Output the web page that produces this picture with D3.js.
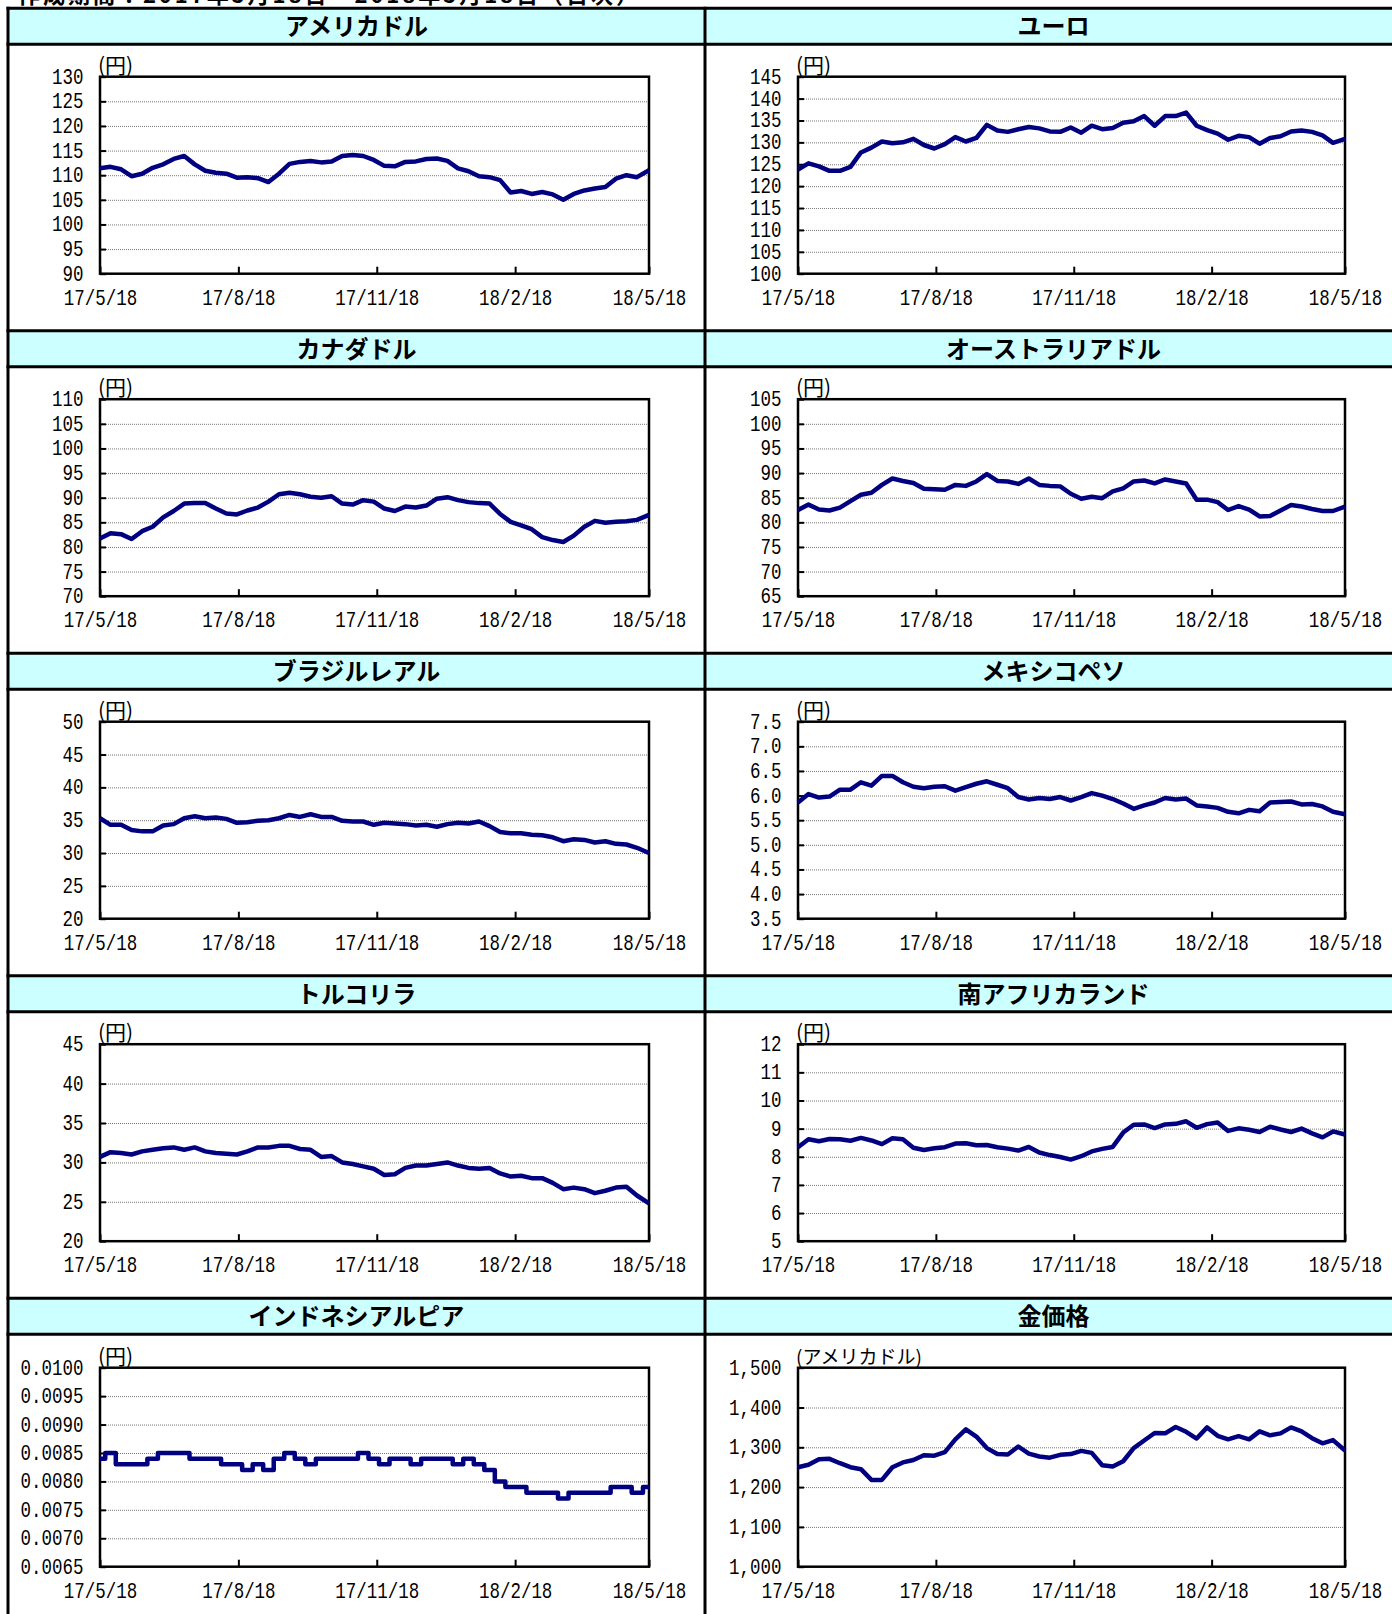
<!DOCTYPE html>
<html>
<head>
<meta charset="utf-8">
<script src="https://cdn.jsdelivr.net/npm/d3@7"></script>
<style>
body { margin: 0; background: #fff; }
svg { display: block; }
.num { font-family: "Liberation Mono", "DejaVu Sans Mono", monospace; font-size: 17.5px; fill: #000; }
.jp { font-family: "Noto Sans CJK JP", sans-serif; fill: #000; }
</style>
</head>
<body>
<svg></svg>
<script>
// weekly readings, 17/5/18 .. 18/5/18
var startDate = new Date(2017, 4, 18), endDate = new Date(2018, 4, 18);
var dates = d3.range(53).map(function (i) {
    return i < 52 ? d3.timeDay.offset(startDate, 7 * i) : endDate;
});
var xTicks = [new Date(2017, 4, 18), new Date(2017, 7, 18), new Date(2017, 10, 18), new Date(2018, 1, 18), new Date(2018, 4, 18)];

var usd = [111.4, 111.7, 111.2, 109.8, 110.3, 111.5, 112.2, 113.3, 113.9, 112.2, 110.9, 110.5, 110.3, 109.5, 109.6, 109.4, 108.6, 110.3, 112.3, 112.7, 112.9, 112.6, 112.8, 113.9, 114.1, 113.9, 113.1, 111.9, 111.8, 112.7, 112.8, 113.3, 113.4, 112.9, 111.4, 110.8, 109.8, 109.6, 109.0, 106.5, 106.8, 106.2, 106.6, 106.1, 105.0, 106.2, 106.9, 107.3, 107.6, 109.3, 110.0, 109.6, 111.0];
var eur = [123.8, 125.2, 124.5, 123.5, 123.5, 124.4, 127.7, 128.8, 130.2, 129.8, 130.0, 130.8, 129.4, 128.6, 129.6, 131.2, 130.2, 131.0, 134.0, 132.7, 132.4, 133.0, 133.5, 133.2, 132.5, 132.4, 133.4, 132.2, 133.8, 133.0, 133.3, 134.5, 134.8, 136.0, 133.8, 136.0, 136.0, 136.8, 133.8, 132.8, 132.0, 130.6, 131.5, 131.2, 129.7, 131.0, 131.4, 132.5, 132.7, 132.4, 131.6, 129.9, 130.8];
var cad = [81.7, 82.8, 82.6, 81.6, 83.2, 84.1, 86.0, 87.3, 88.8, 88.9, 88.9, 87.8, 86.8, 86.6, 87.4, 88.0, 89.2, 90.7, 91.0, 90.7, 90.2, 90.0, 90.3, 88.8, 88.6, 89.5, 89.2, 87.8, 87.3, 88.2, 88.0, 88.4, 89.8, 90.1, 89.5, 89.1, 88.9, 88.8, 86.7, 85.1, 84.4, 83.6, 82.0, 81.4, 81.0, 82.3, 84.1, 85.3, 84.9, 85.1, 85.2, 85.5, 86.5];
var aud = [82.5, 83.6, 82.6, 82.4, 83.0, 84.3, 85.6, 86.0, 87.6, 88.9, 88.4, 88.0, 86.8, 86.7, 86.6, 87.6, 87.4, 88.3, 89.8, 88.4, 88.3, 87.8, 88.9, 87.6, 87.4, 87.3, 85.8, 84.8, 85.2, 84.9, 86.3, 86.9, 88.3, 88.5, 87.9, 88.7, 88.3, 87.9, 84.6, 84.6, 84.1, 82.5, 83.3, 82.6, 81.2, 81.3, 82.4, 83.5, 83.2, 82.7, 82.3, 82.3, 83.2];
var brl = [35.3, 34.3, 34.3, 33.5, 33.3, 33.3, 34.2, 34.4, 35.3, 35.6, 35.3, 35.4, 35.2, 34.6, 34.7, 34.9, 35.0, 35.3, 35.8, 35.5, 35.9, 35.5, 35.5, 34.9, 34.8, 34.8, 34.3, 34.6, 34.5, 34.4, 34.2, 34.3, 34.0, 34.4, 34.6, 34.5, 34.8, 34.1, 33.2, 33.0, 33.0, 32.8, 32.7, 32.4, 31.8, 32.1, 32.0, 31.6, 31.8, 31.4, 31.3, 30.8, 30.0];
var mxn = [5.86, 6.03, 5.96, 5.98, 6.12, 6.12, 6.27, 6.20, 6.40, 6.40, 6.27, 6.18, 6.15, 6.18, 6.19, 6.10, 6.17, 6.24, 6.29, 6.22, 6.15, 5.97, 5.92, 5.95, 5.93, 5.97, 5.90, 5.97, 6.05, 6.00, 5.93, 5.84, 5.73, 5.80, 5.86, 5.95, 5.92, 5.94, 5.80, 5.78, 5.75, 5.67, 5.64, 5.71, 5.68, 5.86, 5.87, 5.88, 5.82, 5.83, 5.78, 5.67, 5.62];
var tryl = [30.7, 31.3, 31.2, 31.0, 31.4, 31.6, 31.8, 31.9, 31.6, 31.9, 31.4, 31.2, 31.1, 31.0, 31.4, 31.9, 31.9, 32.1, 32.1, 31.7, 31.6, 30.7, 30.8, 30.0, 29.8, 29.5, 29.2, 28.4, 28.5, 29.3, 29.6, 29.6, 29.8, 30.0, 29.6, 29.3, 29.2, 29.3, 28.6, 28.2, 28.3, 28.0, 28.0, 27.4, 26.6, 26.8, 26.6, 26.1, 26.4, 26.8, 26.9, 25.8, 24.8];
var zar = [8.34, 8.62, 8.55, 8.63, 8.62, 8.57, 8.67, 8.58, 8.45, 8.66, 8.62, 8.32, 8.24, 8.30, 8.34, 8.47, 8.48, 8.41, 8.42, 8.34, 8.29, 8.22, 8.35, 8.15, 8.06, 7.99, 7.90, 8.02, 8.19, 8.28, 8.35, 8.86, 9.14, 9.15, 9.02, 9.15, 9.17, 9.26, 9.03, 9.16, 9.22, 8.92, 9.01, 8.96, 8.88, 9.07, 8.97, 8.88, 9.00, 8.83, 8.69, 8.90, 8.79];
var idr = [0.0084, 0.0085, 0.0083, 0.0083, 0.0083, 0.0084, 0.0085, 0.0085, 0.0085, 0.0084, 0.0084, 0.0084, 0.0083, 0.0083, 0.0082, 0.0083, 0.0082, 0.0084, 0.0085, 0.0084, 0.0083, 0.0084, 0.0084, 0.0084, 0.0084, 0.0085, 0.0084, 0.0083, 0.0084, 0.0084, 0.0083, 0.0084, 0.0084, 0.0084, 0.0083, 0.0084, 0.0083, 0.0082, 0.0080, 0.0079, 0.0079, 0.0078, 0.0078, 0.0078, 0.0077, 0.0078, 0.0078, 0.0078, 0.0078, 0.0079, 0.0079, 0.0078, 0.0079];
var gold = [1250, 1256, 1270, 1271, 1260, 1250, 1245, 1218, 1218, 1250, 1262, 1268, 1280, 1279, 1288, 1320, 1345, 1327, 1298, 1283, 1282, 1302, 1284, 1277, 1274, 1281, 1283, 1291, 1286, 1255, 1252, 1265, 1298, 1317, 1336, 1335, 1351, 1339, 1322, 1350, 1329, 1320, 1328, 1320, 1340, 1330, 1335, 1350, 1340, 1323, 1310, 1318, 1292];

var titles = ['アメリカドル', 'ユーロ', 'カナダドル', 'オーストラリアドル', 'ブラジルレアル', 'メキシコペソ', 'トルコリラ', '南アフリカランド', 'インドネシアルピア', '金価格'];
var units = ['(円)', '(円)', '(円)', '(円)', '(円)', '(円)', '(円)', '(円)', '(円)', '(アメリカドル)'];
var series = [usd, eur, cad, aud, brl, mxn, tryl, zar, idr, gold];
var yTicks = [
    [90, 95, 100, 105, 110, 115, 120, 125, 130],
    [100, 105, 110, 115, 120, 125, 130, 135, 140, 145],
    [70, 75, 80, 85, 90, 95, 100, 105, 110],
    [65, 70, 75, 80, 85, 90, 95, 100, 105],
    [20, 25, 30, 35, 40, 45, 50],
    [3.5, 4.0, 4.5, 5.0, 5.5, 6.0, 6.5, 7.0, 7.5],
    [20, 25, 30, 35, 40, 45],
    [5, 6, 7, 8, 9, 10, 11, 12],
    [0.0065, 0.0070, 0.0075, 0.0080, 0.0085, 0.0090, 0.0095, 0.0100],
    [1000, 1100, 1200, 1300, 1400, 1500]
];
var yFormats = ['d', 'd', 'd', 'd', 'd', '.1f', 'd', 'd', '.4f', ','];

var W = 1392, H = 1614;
var svg = d3.select('svg').attr('width', W).attr('height', H);

var colX = [8, 705], colW = 697;
var rowH = 322.5, top0 = 8.2, headH = 36;
var plotL = [100, 798], plotR = [649, 1345];

// title line above the panels, clipped by the page top as in the source
svg.append('text')
    .attr('class', 'jp')
    .attr('x', 18).attr('y', 3)
    .attr('textLength', 620)
    .style('font-size', '22px').style('font-weight', 'bold')
    .text('作成期間：2017年5月18日～2018年5月18日（日次）');

titles.forEach(function (title, i) {
    var col = i % 2, row = Math.floor(i / 2);
    var px = colX[col], py = top0 + row * rowH;

    svg.append('rect')
        .attr('x', px).attr('y', py)
        .attr('width', colW).attr('height', headH)
        .attr('fill', '#ccffff');
    svg.append('text')
        .attr('class', 'jp')
        .attr('x', px + colW / 2).attr('y', py + 27)
        .attr('text-anchor', 'middle')
        .style('font-size', '24px').style('font-weight', 'bold')
        .text(title);

    var x0 = plotL[col], x1 = plotR[col];
    var y0 = py + (row === 4 ? 69.5 : 68.5), y1 = py + (row === 4 ? 268.5 : 265.5);

    var x = d3.scaleTime().domain([startDate, endDate]).range([x0, x1]);
    var t = yTicks[i];
    var y = d3.scaleLinear().domain([t[0], t[t.length - 1]]).range([y1, y0]);
    var fmt = d3.format(yFormats[i]);

    var g = svg.append('g');

    // dotted gridlines
    g.append('g')
        .attr('transform', 'translate(' + x0 + ',0)')
        .call(d3.axisLeft(y).tickValues(t.slice(1, -1)).tickSize(-(x1 - x0)).tickFormat(''))
        .call(function (a) {
            a.select('.domain').remove();
            a.selectAll('line').attr('stroke', '#777').attr('stroke-width', 1).attr('stroke-dasharray', '1,1');
        });

    // y axis: inward ticks + labels
    g.append('g')
        .attr('transform', 'translate(' + x0 + ',0)')
        .call(d3.axisLeft(y).tickValues(t).tickSizeInner(-6).tickSizeOuter(0).tickPadding(16.5).tickFormat(fmt))
        .call(function (a) {
            a.select('.domain').remove();
            a.selectAll('line').attr('stroke', '#000').attr('stroke-width', 2);
            a.selectAll('text').attr('class', 'num').attr('font-family', null).attr('font-size', null)
                .attr('dy', null).attr('y', 0)
                .attr('transform', 'translate(0,6.5) scale(1,1.25)');
        });

    // x axis: inward ticks + labels
    g.append('g')
        .attr('transform', 'translate(0,' + y1 + ')')
        .call(d3.axisBottom(x).tickValues(xTicks).tickSizeInner(-7).tickSizeOuter(0).tickPadding(0).tickFormat(d3.timeFormat('%y/%-m/%d')))
        .call(function (a) {
            a.select('.domain').remove();
            a.selectAll('line').attr('stroke', '#000').attr('stroke-width', 2);
            a.selectAll('text').attr('class', 'num').attr('font-family', null).attr('font-size', null)
                .attr('dy', null).attr('y', 0)
                .attr('transform', 'translate(0,31) scale(1,1.25)');
        });

    // plot frame
    g.append('rect')
        .attr('x', x0).attr('y', y0)
        .attr('width', x1 - x0).attr('height', y1 - y0)
        .attr('fill', 'none').attr('stroke', '#000').attr('stroke-width', 2.5);

    // unit label
    g.append('text')
        .attr('class', 'jp')
        .attr('x', x0 - 2).attr('y', y0 - 4)
        .style('font-size', i === 9 ? '19px' : '21px')
        .text(units[i]);

    var line = d3.line()
        .x(function (d, k) { return x(dates[k]); })
        .y(function (d) { return y(d); })
        .curve(i === 8 ? d3.curveStep : d3.curveLinear);
    g.append('path')
        .datum(series[i])
        .attr('d', line)
        .attr('fill', 'none')
        .attr('stroke', '#000080')
        .attr('stroke-width', 4.5)
        .attr('stroke-linejoin', 'round');
});

// panel borders
d3.range(5).forEach(function (r) {
    var py = top0 + r * rowH;
    svg.append('line').attr('x1', 6.5).attr('x2', W).attr('y1', py).attr('y2', py)
        .attr('stroke', '#000').attr('stroke-width', 3);
    svg.append('line').attr('x1', 6.5).attr('x2', W).attr('y1', py + headH).attr('y2', py + headH)
        .attr('stroke', '#000').attr('stroke-width', 3);
});
colX.forEach(function (cx) {
    svg.append('line').attr('x1', cx).attr('x2', cx).attr('y1', top0 - 1.5).attr('y2', H)
        .attr('stroke', '#000').attr('stroke-width', 3);
});
</script>
</body>
</html>
